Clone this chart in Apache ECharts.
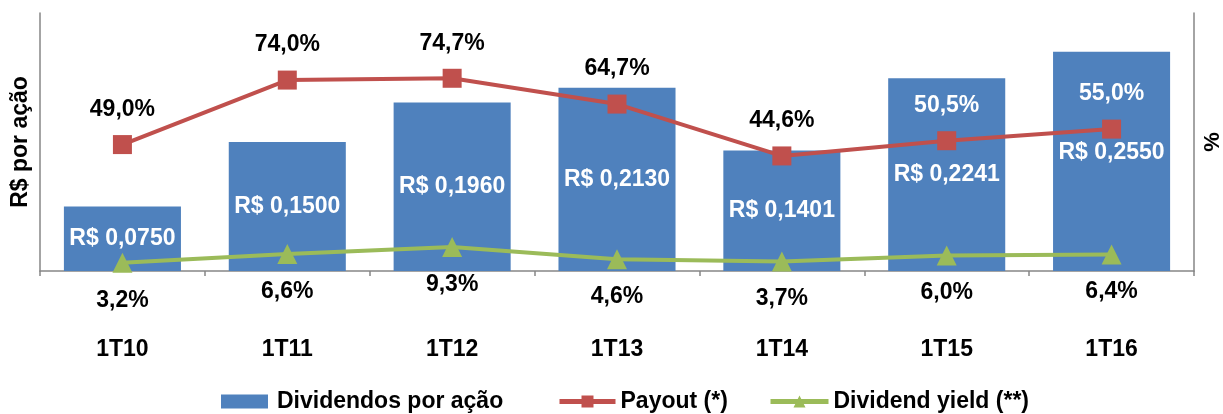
<!DOCTYPE html>
<html>
<head>
<meta charset="utf-8">
<script src="https://cdn.jsdelivr.net/npm/echarts@6/dist/echarts.min.js"></script>
<style>
html,body{margin:0;padding:0;background:#fff;}
#chart{width:1223px;height:414px;}
</style>
</head>
<body>
<div id="chart"></div>
<script>
const categories = ['1T10','1T11','1T12','1T13','1T14','1T15','1T16'];
const dividendos = [0.0750, 0.1500, 0.1960, 0.2130, 0.1401, 0.2241, 0.2550];
const payout = [49.0, 74.0, 74.7, 64.7, 44.6, 50.5, 55.0];
const dividendYield = [3.2, 6.6, 9.3, 4.6, 3.7, 6.0, 6.4];

const FONT = '"Liberation Sans", Arial, sans-serif';
const BLUE = '#4F81BD', RED = '#C0504D', GREEN = '#9BBB59', AXIS = '#868686';

const pct = v => v.toFixed(1).replace('.', ',') + '%';
const brl = v => 'R$ ' + v.toFixed(4).replace('.', ',');

const chart = echarts.init(document.getElementById('chart'));
const lblBase = {fontFamily: FONT, fontWeight: 'bold', fontSize: 23};
const legText = {color: '#000', fontFamily: FONT, fontWeight: 'bold', fontSize: 23};

chart.setOption({
  animation: false,
  textStyle: {fontFamily: FONT},
  grid: {left: 40, right: 29, top: 13, bottom: 143, containLabel: false, outerBoundsMode: 'none'},
  legend: [
    {data: [{name: 'Dividendos por ação', icon: 'rect'}], left: 216, top: 385, itemWidth: 47, itemHeight: 14,
     itemGap: 8, textStyle: Object.assign({padding: [0,0,0,4]}, legText)},
    {data: ['Payout (*)'], left: 552, top: 385, itemWidth: 56, itemHeight: 15,
     lineStyle: {width: 5}, textStyle: legText},
    {data: ['Dividend yield (**)'], left: 763, top: 385, itemWidth: 58, itemHeight: 15,
     lineStyle: {width: 5}, textStyle: legText}
  ],
  xAxis: {
    type: 'category', data: categories,
    axisLine: {lineStyle: {color: AXIS, width: 1.5}},
    axisTick: {show: true, length: 5, lineStyle: {color: AXIS, width: 1.5}},
    axisLabel: Object.assign({color: '#000', margin: 67}, lblBase)
  },
  yAxis: [
    {type: 'value', min: 0, max: 0.3, interval: 0.1,
     axisLabel: {show: false}, splitLine: {show: false},
     axisLine: {show: true, lineStyle: {color: AXIS, width: 1.5}}, axisTick: {show: false},
     name: 'R$ por ação', nameLocation: 'middle', nameGap: 8,
     nameTextStyle: Object.assign({color: '#000'}, lblBase)},
    {type: 'value', min: 0, max: 100, interval: 20, position: 'right',
     axisLabel: {show: false}, splitLine: {show: false},
     axisLine: {show: true, lineStyle: {color: AXIS, width: 1.5}}, axisTick: {show: false},
     name: '%', nameLocation: 'middle', nameGap: 8, nameRotate: 90,
     nameTextStyle: Object.assign({color: '#000'}, lblBase, {fontSize: 22})}
  ],
  series: [
    {name: 'Dividendos por ação', type: 'bar', yAxisIndex: 0, barWidth: '71%',
     itemStyle: {color: BLUE},
     data: dividendos.map((v, i) => i === dividendos.length - 1
       ? {value: v, label: {offset: [0, -9]}} : v),
     label: Object.assign({show: true, position: 'inside', color: '#fff',
       formatter: p => brl(p.value)}, lblBase), z: 2},
    {name: 'Payout (*)', type: 'line', yAxisIndex: 1, data: payout.map((v, i) => ({
       value: v, label: {color: i >= 5 ? '#fff' : '#000'}})),
     symbol: 'rect', symbolSize: 19, itemStyle: {color: RED},
     lineStyle: {color: RED, width: 4},
     label: Object.assign({show: true, position: 'top', distance: 14,
       formatter: p => pct(p.value)}, lblBase), z: 4},
    {name: 'Dividend yield (**)', type: 'line', yAxisIndex: 1, data: dividendYield,
     symbol: 'triangle', symbolSize: 20, itemStyle: {color: GREEN},
     lineStyle: {color: GREEN, width: 4},
     label: Object.assign({show: true, position: 'bottom', distance: 16, color: '#000',
       formatter: p => pct(p.value)}, lblBase), z: 3}
  ]
});
</script>
</body>
</html>
